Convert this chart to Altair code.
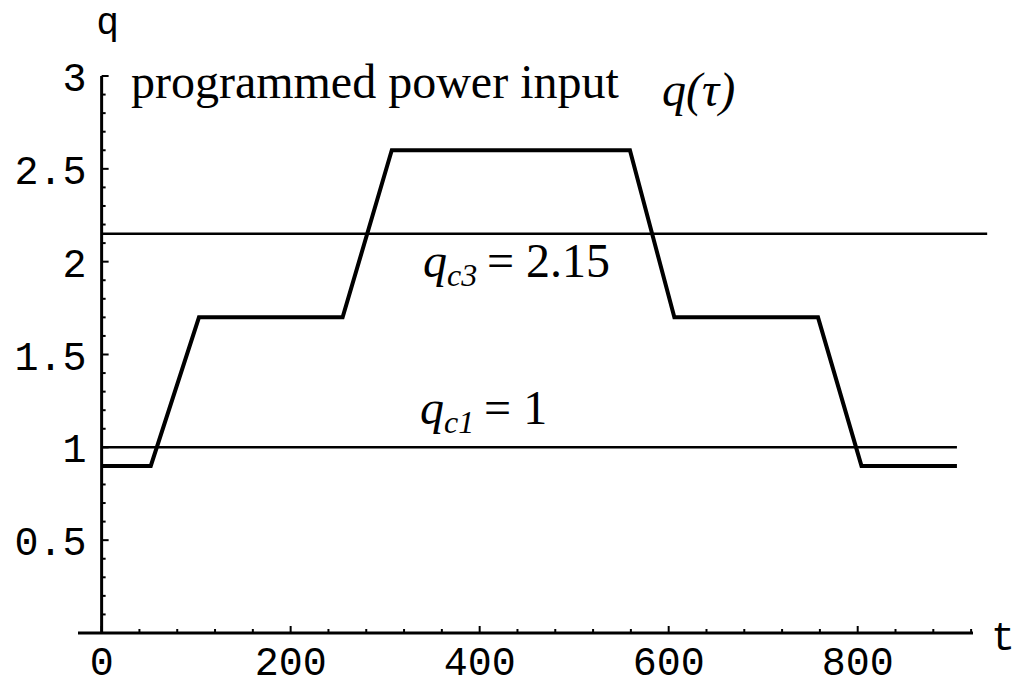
import altair as alt
import pandas as pd

# Programmed power input q(t): corner points of the piecewise-linear schedule
t_knots = [0, 52, 103, 255, 307, 559, 606, 758, 804, 905]
q_knots = [0.9, 0.9, 1.7, 1.7, 2.6, 2.6, 1.7, 1.7, 0.9, 0.9]

# Critical power levels and how far each reference line runs
qc_levels = [1.0, 2.15]
qc_t_end = [905, 937]

# Axis ranges and ticks
T_RANGE = [-25, 922]
Q_RANGE = [0, 3]
x_ticks = [0, 200, 400, 600, 800]
x_tick_labels = ["0", "200", "400", "600", "800"]
x_minor = [t for t in range(40, 921, 40) if t % 200]
y_ticks = [0.5, 1.0, 1.5, 2.0, 2.5, 3.0]
y_tick_labels = ["0.5", "1", "1.5", "2", "2.5", "3"]
y_minor = [round(0.1 * i, 1) for i in range(1, 30) if i % 5]

# Annotation anchors (t, q) in data units
title_anchor = (31, 2.88)
qtau_anchor = (593, 2.84)
qc3_anchor = (340, 1.92)
qc1_anchor = (337, 1.126)

MONO = "Liberation Mono"
SERIF = "Liberation Serif"

xs = alt.Scale(domain=T_RANGE, nice=False, zero=False)
ys = alt.Scale(domain=Q_RANGE, nice=False, zero=False)


def X(field):
    return alt.X(field, type="quantitative", scale=xs, axis=None)


def Y(field):
    return alt.Y(field, type="quantitative", scale=ys, axis=None)


# --- axes -----------------------------------------------------------------
x_axis = alt.Chart(pd.DataFrame({"t": [T_RANGE[0]], "t2": [T_RANGE[1]], "q": [0]})).mark_rule(
    color="black", strokeWidth=3
).encode(x=X("t"), x2="t2", y=Y("q"))

y_axis = alt.Chart(pd.DataFrame({"t": [0], "q": [Q_RANGE[0]], "q2": [Q_RANGE[1]]})).mark_rule(
    color="black", strokeWidth=3
).encode(x=X("t"), y=Y("q"), y2="q2")

x_major_df = pd.DataFrame({"t": x_ticks, "q": 0, "label": x_tick_labels})
x_minor_df = pd.DataFrame({"t": x_minor, "q": 0})
y_major_df = pd.DataFrame({"t": 0, "q": y_ticks, "label": y_tick_labels})
y_minor_df = pd.DataFrame({"t": 0, "q": y_minor})

x_major_ticks = alt.Chart(x_major_df).mark_rule(color="black", strokeWidth=2, y2Offset=-7).encode(
    x=X("t"), y=Y("q"), y2="q"
)
x_minor_ticks = alt.Chart(x_minor_df).mark_rule(color="black", strokeWidth=2, y2Offset=-4).encode(
    x=X("t"), y=Y("q"), y2="q"
)
y_major_ticks = alt.Chart(y_major_df).mark_rule(color="black", strokeWidth=2, x2Offset=7).encode(
    x=X("t"), x2="t", y=Y("q")
)
y_minor_ticks = alt.Chart(y_minor_df).mark_rule(color="black", strokeWidth=2, x2Offset=4).encode(
    x=X("t"), x2="t", y=Y("q")
)

x_labels = alt.Chart(x_major_df).mark_text(
    font=MONO, fontSize=40, align="center", baseline="alphabetic", dy=42, color="black"
).encode(x=X("t"), y=Y("q"), text="label:N")

y_labels = alt.Chart(y_major_df).mark_text(
    font=MONO, fontSize=40, align="right", baseline="middle", dx=-15, dy=3, color="black"
).encode(x=X("t"), y=Y("q"), text="label:N")

t_label = alt.Chart(pd.DataFrame({"t": [T_RANGE[1]], "q": [0], "s": ["t"]})).mark_text(
    font=MONO, fontSize=40, align="center", baseline="alphabetic", dx=30, dy=17, color="black"
).encode(x=X("t"), y=Y("q"), text="s:N")

q_label = alt.Chart(pd.DataFrame({"t": [0], "q": [Q_RANGE[1]], "s": ["q"]})).mark_text(
    font=MONO, fontSize=38, align="center", baseline="alphabetic", dx=6, dy=-42, color="black"
).encode(x=X("t"), y=Y("q"), text="s:N")

# --- data -----------------------------------------------------------------
curve = alt.Chart(pd.DataFrame({"t": t_knots, "q": q_knots, "i": range(len(t_knots))})).mark_line(
    color="black", strokeWidth=4, strokeJoin="miter"
).encode(x=X("t"), y=Y("q"), order="i:Q")

qc_lines = alt.Chart(pd.DataFrame({"t": 0, "t2": qc_t_end, "q": qc_levels})).mark_rule(
    color="black", strokeWidth=2.5
).encode(x=X("t"), x2="t2", y=Y("q"))


# --- annotations ----------------------------------------------------------
def note(anchor, text, dx=0, dy=0, size=48, style="normal"):
    df = pd.DataFrame({"t": [anchor[0]], "q": [anchor[1]], "s": [text]})
    return alt.Chart(df).mark_text(
        font=SERIF, fontSize=size, fontStyle=style, align="left", baseline="alphabetic",
        dx=dx, dy=dy, color="black"
    ).encode(x=X("t"), y=Y("q"), text="s:N")


title = note(title_anchor, "programmed power input")
qtau = note(qtau_anchor, "q(τ)", style="italic")

qc3_text = [
    note(qc3_anchor, "q", style="italic"),
    note(qc3_anchor, "c3", dx=24, dy=9, size=32, style="italic"),
    note(qc3_anchor, "= 2.15", dx=64),
]
qc1_text = [
    note(qc1_anchor, "q", style="italic"),
    note(qc1_anchor, "c1", dx=24, dy=9, size=32, style="italic"),
    note(qc1_anchor, "= 1", dx=64),
]

chart = alt.layer(
    qc_lines, curve,
    x_axis, y_axis, x_major_ticks, x_minor_ticks, y_major_ticks, y_minor_ticks,
    x_labels, y_labels, t_label, q_label,
    title, qtau, *qc3_text, *qc1_text,
).properties(
    width=895,
    height=557,
    autosize=alt.AutoSizeParams(type="none"),
    padding={"left": 78, "top": 76, "right": 54, "bottom": 63},
    background="white",
).configure_view(stroke=None)

chart.save("out.html", embed_options={"renderer": "svg", "actions": False})
